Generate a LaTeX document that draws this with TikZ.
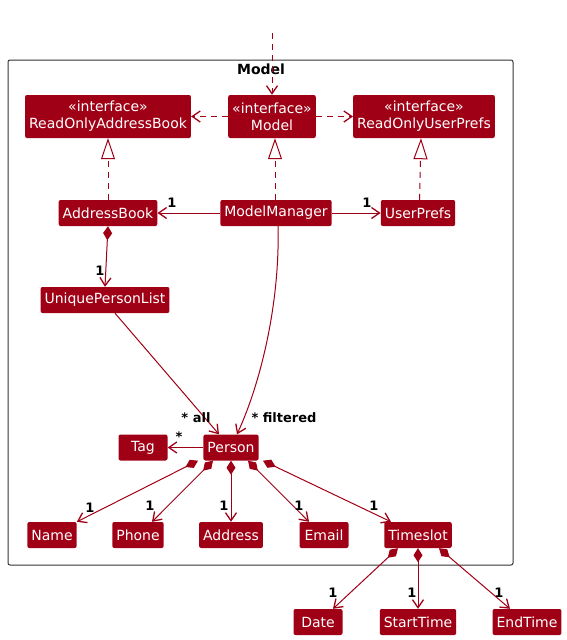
\documentclass[tikz,border=0pt]{standalone}
\usepackage{fontspec}
\setmainfont{DejaVu Sans}
\usetikzlibrary{arrows.meta}
\definecolor{umlred}{HTML}{A00016}
\definecolor{framegray}{HTML}{333333}
\begin{document}
\begin{tikzpicture}[x=1pt,y=-1pt,
  cls/.style={fill=umlred, text=white, rounded corners=2pt, inner xsep=4pt, inner ysep=0pt,
    minimum height=26pt, minimum width=49pt, font=\fontsize{14}{16}\selectfont},
  iface/.style={cls, minimum height=43pt, align=center, font=\fontsize{14}{17}\selectfont},
  mult/.style={font=\bfseries\fontsize{13}{14}\selectfont, inner sep=0pt},
  barb/.style={-{Straight Barb[length=8pt,width=11pt,line width=1.3pt]}},
  assoc/.style={draw=umlred, line width=1pt, barb},
  comp/.style={draw=umlred, line width=1pt, {Diamond[length=14pt,width=9pt]}-{Straight Barb[length=8pt,width=11pt,line width=1.3pt]}},
  depend/.style={draw=umlred, line width=1pt, dash pattern=on 6pt off 5pt, barb},
  realize/.style={draw=umlred, line width=1pt, dash pattern=on 6pt off 5pt, -{Triangle[length=21pt,width=14pt,fill=white]}},
]
\useasboundingbox (0,0) rectangle (567,640);

% package frame
\draw[framegray, line width=1pt, rounded corners=2pt] (8,60) rectangle (513,565);
\node[font=\bfseries\fontsize{14}{16}\selectfont] (pkgtitle) at (261,69) {Model};

% interfaces
\node[iface] (roab) at (108,116.5) {«interface»\\ReadOnlyAddressBook};
\node[iface] (model) at (272,116.5) {«interface»\\Model};
\node[iface] (roup) at (424,116.5) {«interface»\\ReadOnlyUserPrefs};

% classes
\node[cls] (ab) at (108,213) {AddressBook};
\node[cls] (mm) at (276,213) {ModelManager};
\node[cls] (up) at (418,213) {UserPrefs};
\node[cls] (upl) at (105,300) {UniquePersonList};
\node[cls] (tag) at (143,447.5) {Tag};
\node[cls] (person) at (231,447.5) {Person};
\node[cls] (name) at (52,535) {Name};
\node[cls] (phone) at (138,535) {Phone};
\node[cls] (address) at (231,535) {Address};
\node[cls] (email) at (324,535) {Email};
\node[cls] (timeslot) at (418,535) {Timeslot};
\node[cls] (date) at (318,622) {Date};
\node[cls] (start) at (418,622) {StartTime};
\node[cls] (end) at (527,622) {EndTime};

% incoming dependency on Model
\coordinate (client) at (272,33);
\draw[depend] (client) -- (model.north);

% dependencies of Model
\draw[depend] (model.west) -- (roab.east);
\draw[depend] (model.east) -- (roup.west);

% realizations
\draw[realize] (ab.north) -- (roab.south);
\draw[realize] ([xshift=-1pt]mm.north) -- ([xshift=3pt]model.south);
\draw[realize] ([xshift=1.5pt]up.north) -- ([xshift=-3pt]roup.south);

% ModelManager associations
\draw[assoc] (mm.west) -- (ab.east);
\node[mult] (m1) at (172,203) {1};
\draw[assoc] (mm.east) -- (up.west);
\node[mult] (m2) at (367,203) {1};

% AddressBook owns UniquePersonList
\draw[comp] (ab.south) -- (upl.north);
\node[mult] (m3) at (100,271) {1};

% person lists
\draw[assoc] ([xshift=10pt]upl.south) -- ([xshift=-12pt]person.north);
\node[mult] (mall) at (196,418) {* all};
\draw[assoc] ([xshift=2pt]mm.south) .. controls (280,300) and (262,380) .. ([xshift=6pt]person.north);
\node[mult] (mfil) at (284,418) {* filtered};

% tags
\draw[assoc] (person.west) -- (tag.east);
\node[mult] (mtag) at (179,437) {*};

% Person attributes
\draw[comp] ([xshift=-33pt]person.south) -- (name.north east);
\node[mult] (n1) at (90,508) {1};
\draw[comp] ([xshift=-18pt]person.south) -- ([xshift=14pt]phone.north);
\node[mult] (n2) at (150,506) {1};
\draw[comp] (person.south) -- (address.north);
\node[mult] (n3) at (224,506) {1};
\draw[comp] ([xshift=17pt]person.south) -- ([xshift=-15pt]email.north);
\node[mult] (n4) at (299,506) {1};
\draw[comp] ([xshift=32pt]person.south) -- ([xshift=-27pt]timeslot.north);
\node[mult] (n5) at (374,506) {1};

% Timeslot parts
\draw[comp] ([xshift=-20pt]timeslot.south) -- ([xshift=15pt]date.north);
\node[mult] (t1) at (333,593) {1};
\draw[comp] (timeslot.south) -- (start.north);
\node[mult] (t2) at (412,593) {1};
\draw[comp] ([xshift=21pt]timeslot.south) -- ([xshift=-17pt]end.north);
\node[mult] (t3) at (499,593) {1};
\end{tikzpicture}
\end{document}
